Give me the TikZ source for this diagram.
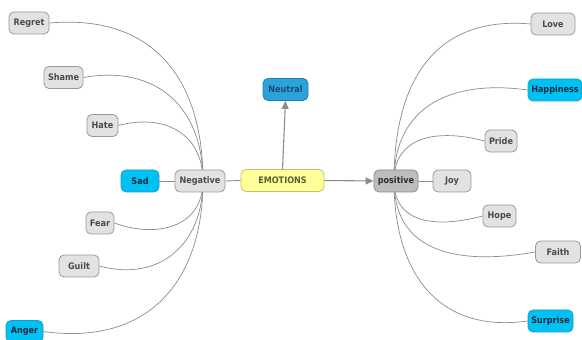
\documentclass[tikz,border=0pt]{standalone}
\usepackage{fontspec}
\setmainfont{DejaVu Sans Condensed}
\usetikzlibrary{arrows.meta,backgrounds}
\definecolor{gfill}{HTML}{E2E2E2}
\definecolor{gdraw}{HTML}{9A9A9A}
\definecolor{gtext}{HTML}{4A4A4A}
\definecolor{cfill}{HTML}{00C2F2}
\definecolor{cdraw}{HTML}{1A9CCC}
\definecolor{ctext}{HTML}{0A2A45}
\definecolor{nfill}{HTML}{2AA3DA}
\definecolor{ndraw}{HTML}{2080B0}
\definecolor{ntext}{HTML}{1E4A6E}
\definecolor{efill}{HTML}{FFFF99}
\definecolor{edraw}{HTML}{C8BE70}
\definecolor{etext}{HTML}{5E5E36}
\definecolor{pfill}{HTML}{BDBDBD}
\definecolor{pdraw}{HTML}{8A8A8A}
\definecolor{ptext}{HTML}{2E2E2E}
\definecolor{linec}{HTML}{8C8C8C}
\begin{document}
\begin{tikzpicture}[x=1pt,y=1pt,
  box/.style={rounded corners=5pt, line width=0.8pt, minimum height=22pt, inner xsep=2pt,
    font=\fontsize{9}{10}\selectfont\bfseries, anchor=center},
  gbox/.style={box, fill=gfill, draw=gdraw, text=gtext},
  cbox/.style={box, fill=cfill, draw=cdraw, text=ctext},
  nbox/.style={box, fill=nfill, draw=ndraw, text=ntext},
  ebox/.style={box, fill=efill, draw=edraw, text=etext},
  pbox/.style={box, fill=pfill, draw=pdraw, text=ptext},
  curve/.style={draw=linec, line width=0.7pt},
  arr/.style={draw=linec, line width=1.1pt, -{Triangle[length=8pt,width=7pt]}},
  link/.style={draw=linec, line width=0.9pt}]
\useasboundingbox (0,0) rectangle (582,340);
% nodes
\node[gbox, minimum width=40pt] (regret) at (29,317) {Regret};
\node[gbox, minimum width=39pt] (shame) at (63.5,262.5) {Shame};
\node[gbox, minimum width=31pt] (hate) at (102.5,214.5) {Hate};
\node[cbox, minimum width=38pt] (sad) at (140,159) {Sad};
\node[gbox, minimum width=50pt] (neg) at (200,159) {Negative};
\node[gbox, minimum width=28pt] (fear) at (100,117) {Fear};
\node[gbox, minimum width=40pt] (guilt) at (79,74) {Guilt};
\node[cbox, minimum width=37pt] (anger) at (24.5,8.5) {Anger};
\node[ebox, minimum width=83pt] (emo) at (282.5,159.5) {EMOTIONS};
\node[nbox, minimum width=45pt] (neutral) at (285.5,250.5) {Neutral};
\node[pbox, minimum width=44pt] (pos) at (396,159) {positive};
\node[gbox, minimum width=38pt] (joy) at (452,159) {Joy};
\node[gbox, minimum width=44pt] (love) at (553,316) {Love};
\node[cbox, minimum width=54pt] (happy) at (555,250) {Happiness};
\node[gbox, minimum width=32pt] (pride) at (501,199) {Pride};
\node[gbox, minimum width=33pt] (hope) at (499.5,124) {Hope};
\node[gbox, minimum width=45pt] (faith) at (558,88) {Faith};
\node[cbox, minimum width=45pt] (surprise) at (550.5,19) {Surprise};
\coordinate (no) at (203,159);
\coordinate (po) at (394,159);
\begin{scope}[on background layer]
\fill[white] (0,0) rectangle (582,340);
\draw[curve] (no) to[out=90,in=5,looseness=1.2] (regret.east);
\draw[curve] (no) to[out=90,in=10,looseness=1.2] (shame.east);
\draw[curve] (no) to[out=90,in=15,looseness=1.2] (hate.east);
\draw[curve] (no) to[out=-90,in=-20,looseness=1.2] (fear.east);
\draw[curve] (no) to[out=-90,in=-15,looseness=1.2] (guilt.east);
\draw[curve] (no) to[out=-90,in=-8,looseness=1.2] (anger.east);
\draw[curve] (po) to[out=90,in=175,looseness=1.2] (love.west);
\draw[curve] (po) to[out=90,in=172,looseness=1.2] (happy.west);
\draw[curve] (po) to[out=90,in=165,looseness=1.2] (pride.west);
\draw[curve] (po) to[out=-90,in=195,looseness=1.2] (hope.west);
\draw[curve] (po) to[out=-90,in=190,looseness=1.2] (faith.west);
\draw[curve] (po) to[out=-90,in=188,looseness=1.2] (surprise.west);
\end{scope}
\draw[link] (sad.east) -- (neg.west);
\draw[link] (emo.west) -- (neg.east);
\draw[link] (pos.east) -- (joy.west);
\draw[arr] (emo.north) -- (neutral.south);
\draw[arr] (emo.east) -- (pos.west);
\end{tikzpicture}
\end{document}
